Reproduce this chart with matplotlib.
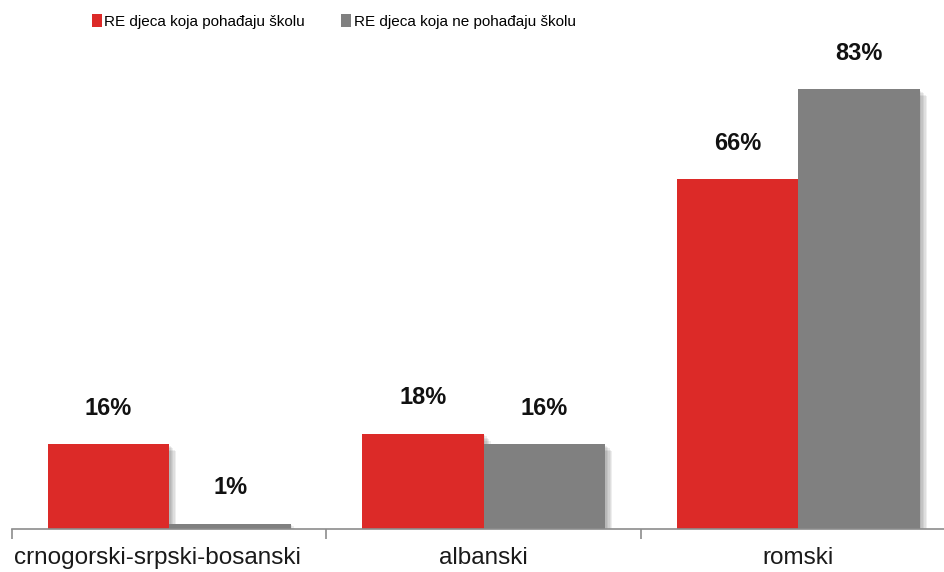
import numpy as np
import matplotlib.pyplot as plt
import matplotlib.patheffects as pe
import matplotlib.transforms as mtransforms
from matplotlib.patches import Patch

categories = ['crnogorski-srpski-bosanski', 'albanski', 'romski']
series_names = ['RE djeca koja pohađaju školu', 'RE djeca koja ne pohađaju školu']
attending = [16, 18, 66]
not_attending = [1, 16, 83]
colors = ['#dc2a28', '#808080']

plt.rcParams['font.family'] = ['Liberation Sans', 'DejaVu Sans']

fig = plt.figure(figsize=(9.45, 5.72), dpi=100)
# the last group runs past the right edge, like in the original
ax = fig.add_axes([12 / 945, 43 / 572, 943.5 / 945, 0.83])

x = np.arange(len(categories))
w = 0.387
# soft drop shadow made from a few stacked offsets
shadow = [pe.SimplePatchShadow(offset=(d, -d), shadow_rgbFace='#444444', alpha=0.09)
          for d in (1, 2, 3, 4, 5)] + [pe.Normal()]

for vals, off, col in [(attending, -w / 2, colors[0]), (not_attending, w / 2, colors[1])]:
    bars = ax.bar(x + off, vals, width=w, color=col, zorder=2)
    for b in bars:
        b.set_path_effects(shadow)
    for xi, v in zip(x + off, vals):
        ax.text(xi, v + 4.6, f'{v}%', ha='center', va='bottom',
                fontsize=17, fontweight='bold', color='#111111')

ax.set_xlim(-0.5, len(categories) - 0.5)
ax.set_ylim(0, 89.6)
for s in ['top', 'right', 'left']:
    ax.spines[s].set_visible(False)
ax.spines['bottom'].set_color('#8c8c8c')
ax.spines['bottom'].set_linewidth(1.2)
ax.set_yticks([])
ax.set_xticks(x)
ax.set_xticklabels(categories, fontsize=17.5, color='#1a1a1a')
ax.tick_params(axis='x', length=0, pad=13)
ax.set_xticks(np.arange(len(categories) + 1) - 0.5, minor=True)
ax.tick_params(axis='x', which='minor', length=7, color='#8c8c8c', width=1.2)

# first label is pushed left so it starts at the axis edge
lab0 = ax.get_xticklabels()[0]
lab0.set_transform(lab0.get_transform() +
                   mtransforms.ScaledTranslation(-12 / 100, 0, fig.dpi_scale_trans))

handles = [Patch(facecolor=c, label=n) for c, n in zip(colors, series_names)]
fig.legend(handles=handles, loc='upper left', bbox_to_anchor=(78 / 945, 1.0), ncol=2,
           frameon=False, prop={'family': 'Liberation Sans', 'size': 11},
           handlelength=0.65, handleheight=1.0, handletextpad=0.15, columnspacing=2.4)

fig.savefig('out.png', dpi=100)
